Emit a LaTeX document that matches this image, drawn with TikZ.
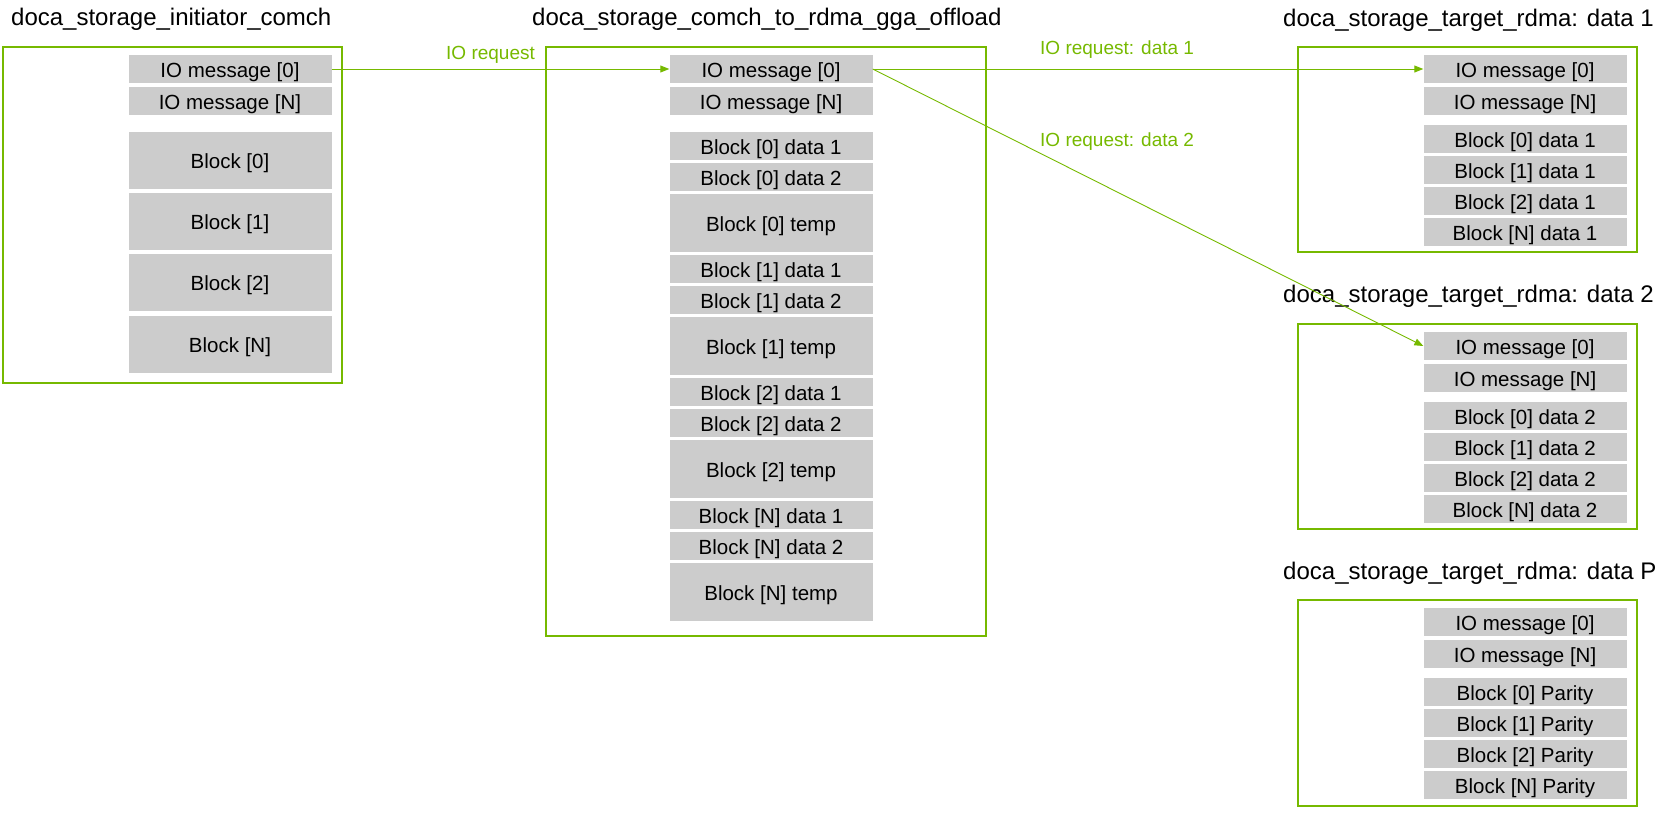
\documentclass[tikz,border=0pt]{standalone}
\usepackage{fontspec}
\setmainfont{Liberation Sans}
\usetikzlibrary{arrows.meta}
\definecolor{nvgreen}{HTML}{76B900}
\definecolor{cellgray}{HTML}{CCCCCC}
\begin{document}
\begin{tikzpicture}[x=1pt, y=-1pt,
  frame/.style = {draw=nvgreen, line width=2.2pt},
  cell/.style = {fill=cellgray, minimum width=203pt, minimum height=#1, inner sep=0pt, text height=16.6pt, text depth=0pt, font=\fontsize{20.5}{24}\selectfont},
  cell/.default = 28pt,
  title/.style = {anchor=base west, inner sep=0pt, font=\fontsize{24}{28}\selectfont},
  req/.style = {anchor=base west, inner sep=0pt, text=nvgreen, font=\fontsize{19}{22}\selectfont},
  link/.style = {draw=nvgreen, line width=0.9pt, -{Triangle[length=9pt, width=7pt]}}]
\useasboundingbox (0,0) rectangle (1664,812);
% initiator
\node[title] (tinit) at (11,25) {doca\_storage\_initiator\_comch};
\draw[frame] (3,47) rectangle (342,383);
\node[cell] (lmsg0) at (230,69) {IO message [0]};
\node[cell] (lmsgN) at (230,101) {IO message [N]};
\node[cell=57pt] (lblk0) at (230,160.5) {Block [0]};
\node[cell=57pt] (lblk1) at (230,221.5) {Block [1]};
\node[cell=57pt] (lblk2) at (230,282.5) {Block [2]};
\node[cell=57pt] (lblkN) at (230,344) {Block [N]};
% offload
\node[title] (toff) at (532,25) {doca\_storage\_comch\_to\_rdma\_gga\_offload};
\draw[frame] (546,47) rectangle (986,636);
\node[cell] (mmsg0) at (771,69) {IO message [0]};
\node[cell] (mmsgN) at (771,101) {IO message [N]};
\node[cell] (mb0d1) at (771,146) {Block [0] data 1};
\node[cell] (mb0d2) at (771,177) {Block [0] data 2};
\node[cell=58pt] (mb0t) at (771,223) {Block [0] temp};
\node[cell] (mb1d1) at (771,269) {Block [1] data 1};
\node[cell] (mb1d2) at (771,300) {Block [1] data 2};
\node[cell=58pt] (mb1t) at (771,346) {Block [1] temp};
\node[cell] (mb2d1) at (771,392) {Block [2] data 1};
\node[cell] (mb2d2) at (771,423) {Block [2] data 2};
\node[cell=58pt] (mb2t) at (771,469) {Block [2] temp};
\node[cell] (mbNd1) at (771,515) {Block [N] data 1};
\node[cell] (mbNd2) at (771,546) {Block [N] data 2};
\node[cell=58pt] (mbNt) at (771,592) {Block [N] temp};
% target data 1
\node[title] (tdata1) at (1283,26) {doca\_storage\_target\_rdma: data 1};
\draw[frame] (1298,47) rectangle (1637,252);
\node[cell] (amsg0) at (1525,69) {IO message [0]};
\node[cell] (amsgN) at (1525,101) {IO message [N]};
\node[cell] (ablk0) at (1525,139) {Block [0] data 1};
\node[cell] (ablk1) at (1525,170) {Block [1] data 1};
\node[cell] (ablk2) at (1525,201) {Block [2] data 1};
\node[cell] (ablkN) at (1525,232) {Block [N] data 1};
% target data 2
\node[title] (tdata2) at (1283,302) {doca\_storage\_target\_rdma: data 2};
\draw[frame] (1298,324) rectangle (1637,529);
\node[cell] (bmsg0) at (1525,346) {IO message [0]};
\node[cell] (bmsgN) at (1525,378) {IO message [N]};
\node[cell] (bblk0) at (1525,416) {Block [0] data 2};
\node[cell] (bblk1) at (1525,447) {Block [1] data 2};
\node[cell] (bblk2) at (1525,478) {Block [2] data 2};
\node[cell] (bblkN) at (1525,509) {Block [N] data 2};
% target parity
\node[title] (tdataP) at (1283,579) {doca\_storage\_target\_rdma: data P};
\draw[frame] (1298,600) rectangle (1637,806);
\node[cell] (pmsg0) at (1525,622) {IO message [0]};
\node[cell] (pmsgN) at (1525,654) {IO message [N]};
\node[cell] (pblk0) at (1525,692) {Block [0] Parity};
\node[cell] (pblk1) at (1525,723) {Block [1] Parity};
\node[cell] (pblk2) at (1525,754) {Block [2] Parity};
\node[cell] (pblkN) at (1525,785) {Block [N] Parity};
% requests
\draw[link] (lmsg0) -- (mmsg0);
\draw[link] (mmsg0.east) -- (amsg0.west);
\draw[link] (mmsg0.east) -- (bmsg0.west);
\node[req] (req) at (446,59) {IO request};
\node[req] (req1) at (1040,54) {IO request: data 1};
\node[req] (req2) at (1040,146) {IO request: data 2};
\end{tikzpicture}
\end{document}
